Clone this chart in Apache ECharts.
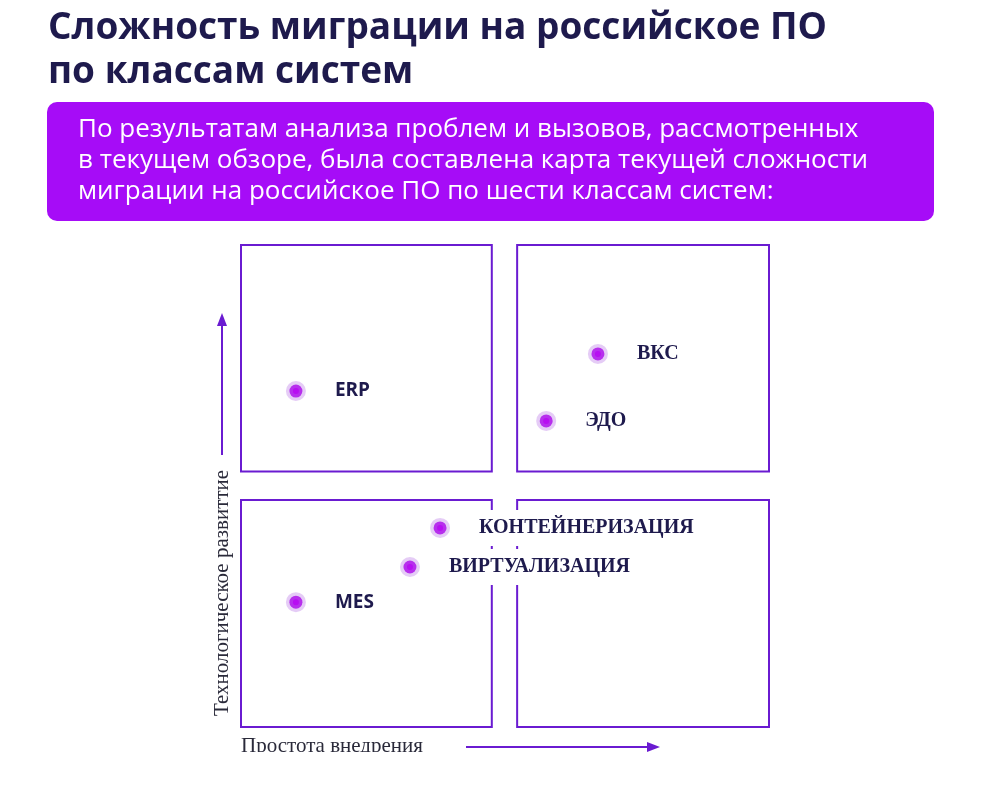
<!DOCTYPE html>
<html>
<head>
<meta charset="utf-8">
<script src="https://cdn.jsdelivr.net/npm/echarts@6/dist/echarts.min.js"></script>
<style>html,body{margin:0;padding:0;background:#fff}#chart{width:981px;height:791px}</style>
</head>
<body>
<div id="chart"></div>
<script>
// системы и их положение на карте (0..100 по обеим осям)
var systems = ['ERP', 'ВКС', 'ЭДО', 'КОНТЕЙНЕРИЗАЦИЯ', 'ВИРТУАЛИЗАЦИЯ', 'MES'];
var ease = [10.4, 67.6, 57.8, 37.7, 32.0, 10.4];
var tech = [69.7, 77.4, 63.5, 41.3, 33.2, 25.9];
var latin = { ERP: true, MES: true };

// квадранты [x0, y0, x1, y1]
var quads = [
  [0, 53, 47.5, 100],
  [52.3, 53, 100, 100],
  [0, 0, 47.5, 47.1],
  [52.3, 0, 100, 47.1]
];

var purple = '#6a1bd1';
var chart = echarts.init(document.getElementById('chart'));

var points = systems.map(function (name, i) {
  return {
    name: name,
    value: [ease[i], tech[i]],
    label: {
      fontFamily: latin[name] ? 'Open Sans' : 'Liberation Serif',
      fontSize: latin[name] ? 19 : 20
    }
  };
});

chart.setOption({
  animation: false,
  grid: { left: 241, right: 212, top: 245, bottom: 64 },
  xAxis: { type: 'value', min: 0, max: 100, show: false },
  yAxis: { type: 'value', min: 0, max: 100, show: false },
  graphic: [
    { type: 'text', left: 48, top: 6, style: { text: 'Сложность миграции на российское ПО\nпо классам систем', fill: '#1e1a4d', font: 'bold 37px "Open Sans"', lineHeight: 44 } },
    { type: 'rect', shape: { x: 47, y: 102, width: 887, height: 119, r: 10 }, style: { fill: '#a60cf7' }, z: 1 },
    { type: 'text', left: 78, top: 114, z: 2, style: { text: 'По результатам анализа проблем и вызовов, рассмотренных\nв текущем обзоре, была составлена карта текущей сложности\nмиграции на российское ПО по шести классам систем:', fill: '#fff', font: '26px "Open Sans"', lineHeight: 31 } },
    { type: 'line', shape: { x1: 222, y1: 455, x2: 222, y2: 322 }, style: { stroke: purple, lineWidth: 2 } },
    { type: 'polygon', shape: { points: [[217, 326], [227, 326], [222, 313]] }, style: { fill: purple } },
    { type: 'text', x: 222, y: 593, rotation: Math.PI / 2, style: { text: 'Технологическое развиттие', fill: '#2a2a3a', font: '21px "Liberation Serif"', align: 'center', verticalAlign: 'middle' } },
    { type: 'text', left: 241, top: 736, style: { text: 'Простота внедрения', fill: '#2a2a3a', font: '21px "Liberation Serif"' } },
    { type: 'line', shape: { x1: 466, y1: 747, x2: 650, y2: 747 }, style: { stroke: purple, lineWidth: 2 } },
    { type: 'polygon', shape: { points: [[647, 742], [647, 752], [660, 747]] }, style: { fill: purple } },
    { type: 'rect', shape: { x: 0, y: 752, width: 981, height: 40 }, style: { fill: '#fff' }, z: 10 }
  ],
  series: [{
    type: 'scatter',
    data: points,
    symbolSize: 13,
    itemStyle: { color: '#b80ef2', opacity: 1, borderColor: 'rgba(180,110,230,0.35)', borderWidth: 7 },
    label: {
      show: true,
      position: 'right',
      distance: 27,
      formatter: '{b}',
      color: '#1e1a4d',
      opacity: 1,
      fontWeight: 'bold',
      backgroundColor: '#fff',
      padding: [8, 2]
    },
    markArea: {
      silent: true,
      itemStyle: { color: 'rgba(0,0,0,0)', borderColor: purple, borderWidth: 2 },
      data: quads.map(function (q) { return [{ coord: [q[0], q[1]] }, { coord: [q[2], q[3]] }]; })
    }
  }]
});
</script>
</body>
</html>
